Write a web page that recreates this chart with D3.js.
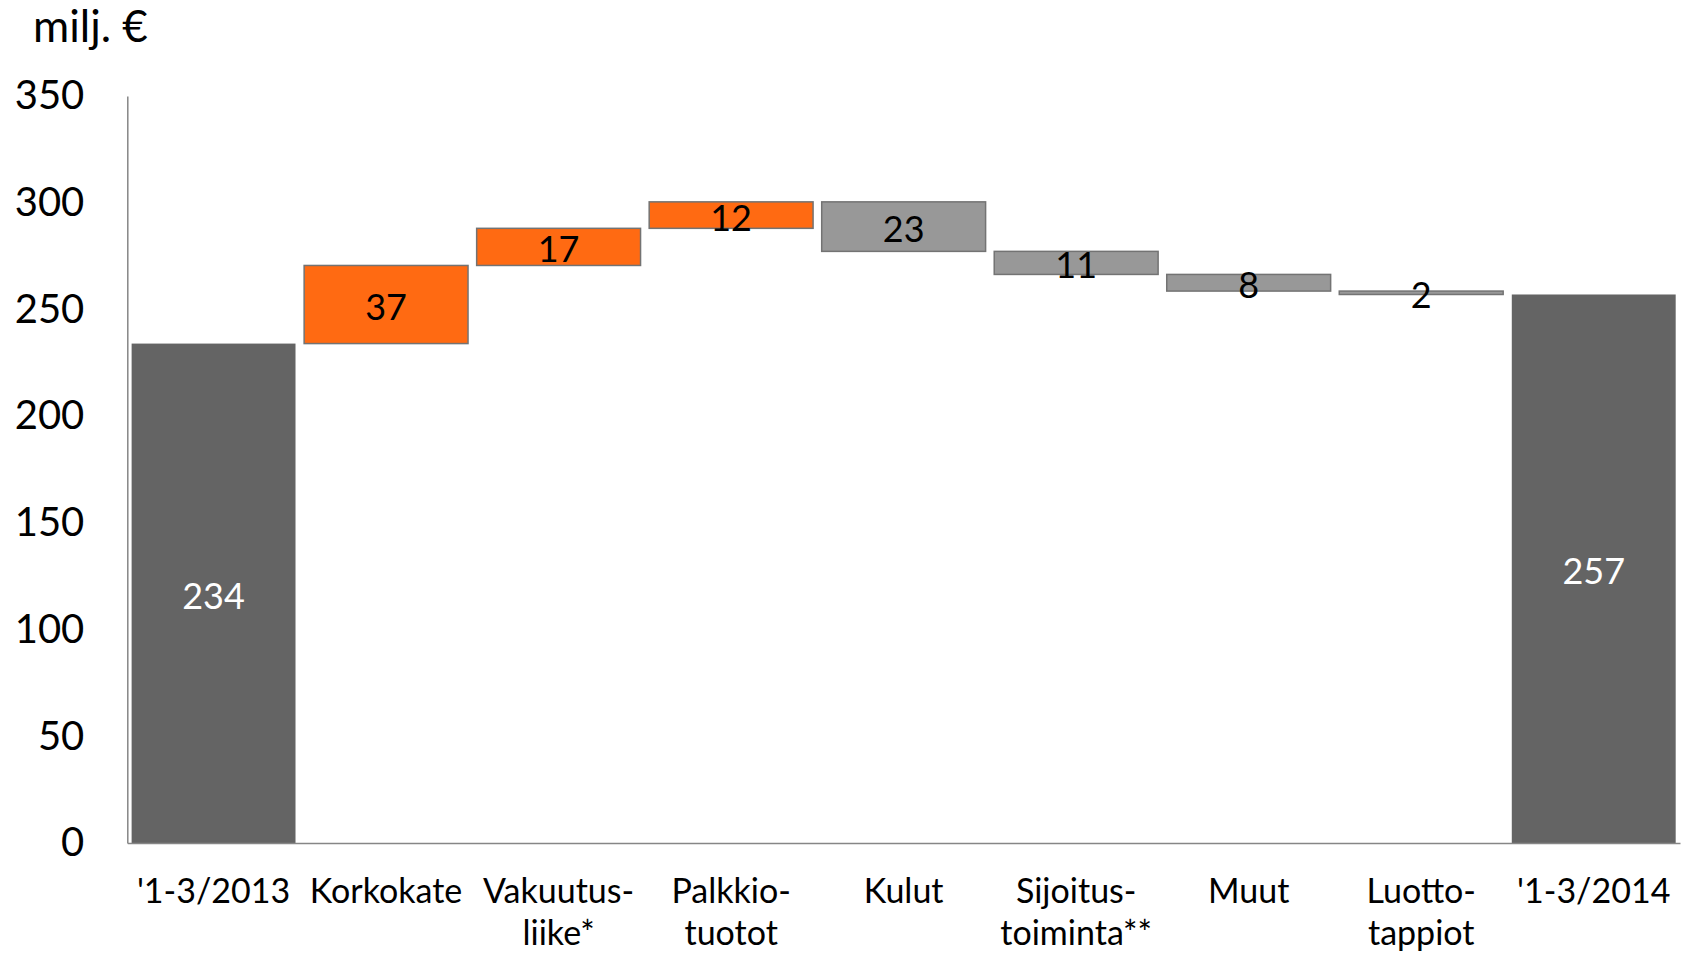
<!DOCTYPE html>
<html>
<head>
<meta charset="utf-8">
<script src="https://cdn.jsdelivr.net/npm/d3@7"></script>
<style>
body { margin:0; background:#fff; }
text { font-family: Lato, "Open Sans", sans-serif; }
</style>
</head>
<body>
<div id="main"></div>
<script>
// categories, one string per tick, \n splits the label on two lines
const categories = ["'1-3/2013", "Korkokate", "Vakuutus-\nliike*", "Palkkio-\ntuotot", "Kulut",
    "Sijoitus-\ntoiminta**", "Muut", "Luotto-\ntappiot", "'1-3/2014"]
const startValue = 234
const changes = [36.6, 17.4, 12.4, -23.2, -10.8, -7.8, -1.6]
const endValue = 257
const yTicks = [0, 50, 100, 150, 200, 250, 300, 350]

const W = 1692, H = 955

function initViz()
{
    let svg = d3.select("#main").append("svg").attr("width", W).attr("height", H)

    let x = d3.scaleBand()
        .domain(categories)
        .range([127.3, 1680])
        .paddingInner(0.05)
        .paddingOuter(0.025)

    let y = d3.scaleLinear()
        .domain([0, 350])
        .range([843, 96])

    // build the waterfall steps
    let steps = []
    steps.push({ cat: categories[0], from: 0, to: startValue, kind: "total", label: startValue })
    let level = startValue
    changes.forEach((c, i) => {
        steps.push({ cat: categories[i + 1], from: level, to: level + c, kind: c >= 0 ? "up" : "down", label: Math.round(Math.abs(c)) })
        level = level + c
    })
    steps.push({ cat: categories[categories.length - 1], from: 0, to: endValue, kind: "total", label: endValue })

    let fills = { total: "#646464", up: "#FF6A12", down: "#989898" }

    svg.selectAll("rect.bar")
        .data(steps)
        .enter()
        .append("rect")
        .attr("class", "bar")
        .attr("x", d => x(d.cat))
        .attr("width", x.bandwidth())
        .attr("y", d => y(Math.max(d.from, d.to)))
        .attr("height", d => Math.abs(y(d.from) - y(d.to)))
        .attr("fill", d => fills[d.kind])
        .attr("stroke", d => d.kind == "total" ? "none" : "#737373")
        .attr("stroke-width", 1.5)

    // y axis
    let yAxis = svg.append("g")
        .attr("transform", "translate(127.3,0)")
        .call(d3.axisLeft(y).tickValues(yTicks).tickSize(0).tickSizeOuter(0).tickPadding(43))
    yAxis.select(".domain").attr("stroke", "#868686").attr("stroke-width", 1.5)
    yAxis.selectAll("text").attr("font-size", 40).attr("fill", "#000").style("font-family", "Lato")

    // x axis
    let xAxis = svg.append("g")
        .attr("transform", "translate(0,843)")
        .call(d3.axisBottom(x).tickSize(0).tickSizeOuter(0).tickFormat(""))
    xAxis.select(".domain").attr("stroke", "#868686").attr("stroke-width", 1.5)

    let lab = xAxis.selectAll(".tick")
        .append("text")
        .attr("fill", "#000")
        .attr("font-size", 34)
        .attr("text-anchor", "middle")
        .style("font-family", "Lato")
    lab.each(function (d) {
        let lines = d.split("\n")
        lines.forEach((l, i) => {
            d3.select(this).append("tspan").attr("x", 0).attr("y", 60 + i * 42).text(l)
        })
    })

    // value labels in the middle of each bar
    svg.selectAll("text.val")
        .data(steps)
        .enter()
        .append("text")
        .attr("class", "val")
        .attr("x", d => x(d.cat) + x.bandwidth() / 2)
        .attr("y", d => y((d.from + d.to) / 2))
        .attr("dy", "0.43em")
        .attr("text-anchor", "middle")
        .attr("font-size", 36)
        .attr("fill", d => d.kind == "total" ? "#fff" : "#000")
        .text(d => d.label)

    svg.append("text")
        .text("milj. €")
        .attr("x", 33)
        .attr("y", 42)
        .attr("font-size", 44)
        .attr("fill", "#000")
}

initViz()
</script>
</body>
</html>
